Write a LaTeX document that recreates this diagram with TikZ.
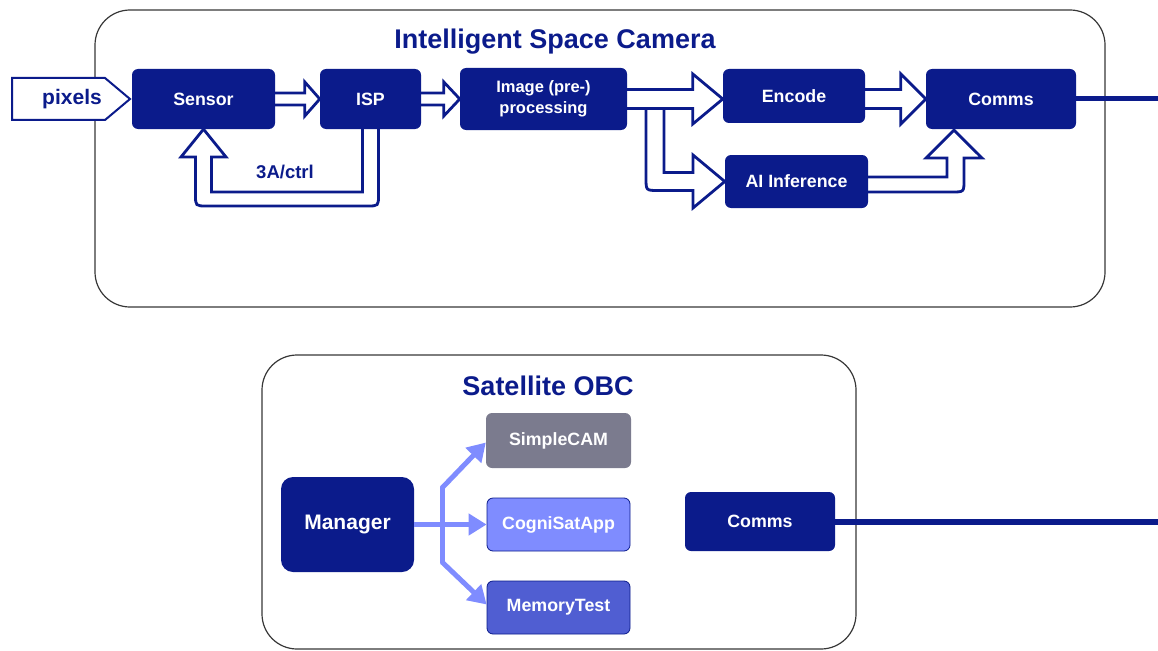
\documentclass[tikz,border=0pt]{standalone}
\usepackage{fontspec}
\setmainfont{Liberation Sans}
\usetikzlibrary{calc,arrows.meta}
\definecolor{navy}{RGB}{11,27,139}
\definecolor{lblue}{RGB}{127,140,255}
\definecolor{mblue}{RGB}{80,94,210}
\definecolor{gcam}{RGB}{123,123,142}
\definecolor{framec}{RGB}{55,55,55}
\newcommand\harr[5]{\draw[hol] ($(#1)+(0,-#3)$) -- ($(#2)+(-#5,-#3)$) -- ($(#2)+(-#5,-#4)$) -- (#2) -- ($(#2)+(-#5,#4)$) -- ($(#2)+(-#5,#3)$) -- ($(#1)+(0,#3)$);}
\begin{document}
\begin{tikzpicture}[x=1pt,y=-1pt,
  box/.style={fill=navy, rounded corners=6pt, text=white, font=\bfseries\fontsize{17.8}{21}\selectfont, align=center, inner sep=0pt},
  hol/.style={draw=navy, line width=2.8pt, line join=miter},
  frm/.style={draw=framec, line width=1.2pt, rounded corners=35pt, inner sep=0pt},
  ttl/.style={text=navy, font=\bfseries\fontsize{27}{31}\selectfont},
  larrow/.style={draw=lblue, line width=5pt, line join=round, -{Triangle[length=18pt,width=21pt]}},
  lline/.style={draw=lblue, line width=5pt, line cap=round}]
\useasboundingbox (0,0) rectangle (1158,650);
% frames
\node[frm, minimum width=1010pt, minimum height=297pt] (cam) at (600,158.5) {};
\node[frm, minimum width=594pt, minimum height=294pt] (obc) at (559,502) {};
\node[ttl] (camtitle) at (555,41.5) {Intelligent Space Camera};
\node[ttl] (obctitle) at (548,385.5) {Satellite OBC};
% pixels input
\draw[navy, line width=2pt, fill=white, line join=miter] (12,78) -- (105,78) -- (130,99) -- (105,120) -- (12,120) -- cycle;
\node[text=navy, font=\bfseries\fontsize{21}{25}\selectfont, inner sep=0pt] (pix) at (72,99.5) {pixels};
% top row
\node[box, minimum width=143pt, minimum height=60pt] (sensor) at (203.5,99) {Sensor};
\node[box, minimum width=101pt, minimum height=60pt] (isp) at (370.5,99) {ISP};
\node[box, minimum width=167pt, minimum height=62pt, font=\bfseries\fontsize{16.5}{21}\selectfont] (img) at (543.5,99) {Image (pre-)\\processing};
\node[box, minimum width=142pt, minimum height=54pt] (enc) at (794,96) {Encode};
\node[box, minimum width=150pt, minimum height=60pt] (comms1) at (1001,99) {Comms};
\node[box, minimum width=143pt, minimum height=53pt] (ai) at (796.5,181.5) {AI Inference};
\node[text=navy, font=\bfseries\fontsize{18.5}{22}\selectfont] (ctrl) at (285,172) {3A/ctrl};
\coordinate (encin) at ($(enc.west)+(0,3)$);
\coordinate (encout) at ($(enc.east)+(0,3)$);
\coordinate (out1) at (1160,99);
% hollow arrows
\harr{sensor.east}{isp.west}{6}{17}{15}
\harr{isp.east}{img.west}{6}{17}{16}
\harr{img.east}{encin}{9.5}{25}{30}
\harr{encout}{comms1.west}{9.5}{25}{25}
% branch to AI
\draw[hol] (646,109) -- (646,178) .. controls (646,190.5) .. (658,190.5) -- (693,190.5) -- (693,208) -- (ai.west) -- (693,155) -- (693,172.5) -- (664,172.5) -- (664,109);
% AI to comms
\draw[hol] ($(ai.east)+(0,-4.5)$) -- (947,177) -- (947,158) -- (926,158) -- ($(comms1.south)+(-47,1)$) -- (982,158) -- (964,158) -- (964,180) .. controls (964,192) .. (952,192) -- ($(ai.east)+(0,10.5)$);
% feedback ISP -> Sensor
\draw[hol] ($(isp.south)+(8,0)$) -- (378.5,195) .. controls (378.5,206) .. (367,206) -- (207,206) .. controls (195.5,206) .. (195.5,195) -- (195.5,157) -- (181,157) -- (sensor.south) -- (226,157) -- (211.5,157) -- (211.5,192) -- (362.5,192) -- ($(isp.south)+(-8,0)$);
\draw[navy, line width=5pt] (comms1.east) -- (out1);
% bottom
\node[box, rounded corners=12pt, minimum width=133pt, minimum height=95pt, font=\bfseries\fontsize{21}{25}\selectfont] (mgr) at (347.5,524.5) {Manager};
\node[box, fill=gcam, minimum width=145pt, minimum height=55pt] (scam) at (558.5,440.5) {SimpleCAM};
\node[box, fill=lblue, draw=navy, line width=0.8pt, minimum width=143pt, minimum height=53pt] (cogni) at (558.5,524.5) {CogniSatApp};
\node[box, fill=mblue, draw=navy, line width=0.8pt, minimum width=143pt, minimum height=53pt] (mem) at (558.5,607.5) {MemoryTest};
\node[box, minimum width=150pt, minimum height=59pt] (comms2) at (760,521.5) {Comms};
\coordinate (brtop) at (442,488);
\coordinate (brbot) at (442,562);
\coordinate (out2) at (1160,521.5);
\draw[lline] (brtop) -- (brbot);
\draw[larrow] (mgr.east) -- (cogni.west);
\draw[larrow] (brtop) -- ($(scam.west)+(0,2)$);
\draw[larrow] (brbot) -- ($(mem.west)+(0,-3)$);
\draw[navy, line width=6pt] (comms2.east) -- (out2);
\end{tikzpicture}
\end{document}
